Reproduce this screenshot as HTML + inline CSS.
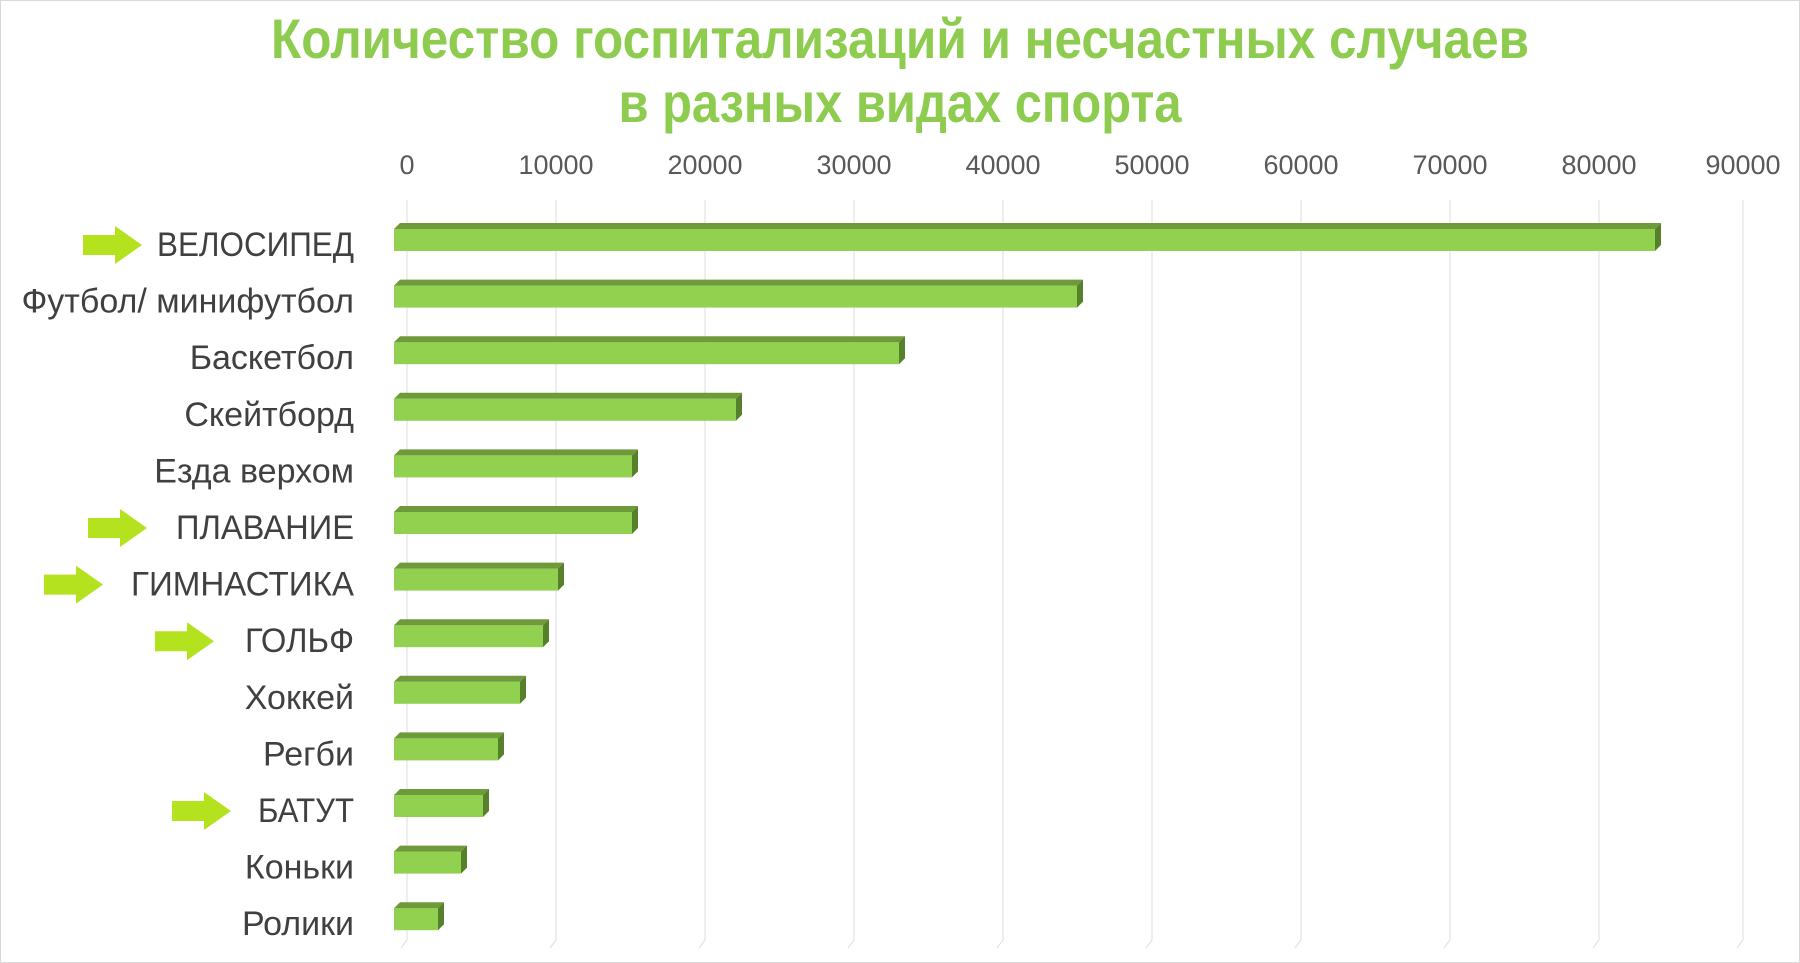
<!DOCTYPE html>
<html><head><meta charset="utf-8"><style>
html,body{margin:0;padding:0;background:#fff;}
svg{display:block;}
</style></head><body>
<svg width="1800" height="963" viewBox="0 0 1800 963" xmlns="http://www.w3.org/2000/svg">
<rect x="0.5" y="0.5" width="1799" height="962" fill="#fff" stroke="#d9d9d9"/>
<g font-family="Liberation Sans, sans-serif" font-weight="bold" fill="#8dcc4e" text-anchor="middle">
<text x="900" y="58" font-size="56" textLength="1258" lengthAdjust="spacingAndGlyphs">Количество госпитализаций и несчастных случаев</text>
<text x="900" y="122" font-size="56" textLength="563" lengthAdjust="spacingAndGlyphs">в разных видах спорта</text>
</g>
<g stroke="#e3e3e3" stroke-width="1.2" fill="none">
<path d="M407 200V940L401 948"/><path d="M556 200V940L550 948"/><path d="M705 200V940L699 948"/><path d="M854 200V940L848 948"/><path d="M1003 200V940L997 948"/><path d="M1152 200V940L1146 948"/><path d="M1301 200V940L1295 948"/><path d="M1450 200V940L1444 948"/><path d="M1599 200V940L1593 948"/><path d="M1743 200V940L1737 948"/>
</g>
<g font-family="Liberation Sans, sans-serif" font-size="27" fill="#595959" text-anchor="middle">
<text x="407" y="174">0</text><text x="556" y="174">10000</text><text x="705" y="174">20000</text><text x="854" y="174">30000</text><text x="1003" y="174">40000</text><text x="1152" y="174">50000</text><text x="1301" y="174">60000</text><text x="1450" y="174">70000</text><text x="1599" y="174">80000</text><text x="1743" y="174">90000</text>
</g>
<g id="bars"></g>
<g font-family="Liberation Sans, sans-serif" font-size="34" fill="#404040" text-anchor="end" id="labels"></g>
<g id="arrows" fill="#b5e21f"></g>
<script>
var ends=[1661,1083,905,742,638,638,564,549,526,504,489,467,444];
var names=["ВЕЛОСИПЕД","Футбол/ минифутбол","Баскетбол","Скейтборд ","Езда верхом","ПЛАВАНИЕ","ГИМНАСТИКА","ГОЛЬФ","Хоккей","Регби","БАТУТ","Коньки","Ролики"];
var lens={0:197,5:178,6:223,7:109,10:96};
var arrows={0:83,5:88,6:44,7:155,10:172};
var ns="http://www.w3.org/2000/svg";
var b=document.getElementById("bars"),l=document.getElementById("labels"),a=document.getElementById("arrows");
function el(t,at,p){var e=document.createElementNS(ns,t);for(var k in at)e.setAttribute(k,at[k]);p.appendChild(e);return e;}
for(var i=0;i<13;i++){
 var y=229+56.6*i,e=ends[i];
 el("rect",{x:394,y:y,width:e-6-394,height:22,fill:"#92d050"},b);
 el("polygon",{points:"394,"+y+" 400,"+(y-6)+" "+e+","+(y-6)+" "+(e-6)+","+y,fill:"#6f9a3a"},b);
 el("polygon",{points:(e-6)+","+y+" "+e+","+(y-6)+" "+e+","+(y+16)+" "+(e-6)+","+(y+22),fill:"#56802b"},b);
 var at={x:354,y:y+27};
 if(lens[i]){at.textLength=lens[i];at.lengthAdjust="spacingAndGlyphs";}
 var t=el("text",at,l);t.textContent=names[i];
 if(arrows[i]!==undefined){var x=arrows[i],cy=y+16;
  el("polygon",{points:x+","+(cy-10)+" "+(x+32)+","+(cy-10)+" "+(x+32)+","+(cy-19)+" "+(x+59)+","+cy+" "+(x+32)+","+(cy+19)+" "+(x+32)+","+(cy+10)+" "+x+","+(cy+10)},a);}
}
</script>
</svg>
</body></html>
